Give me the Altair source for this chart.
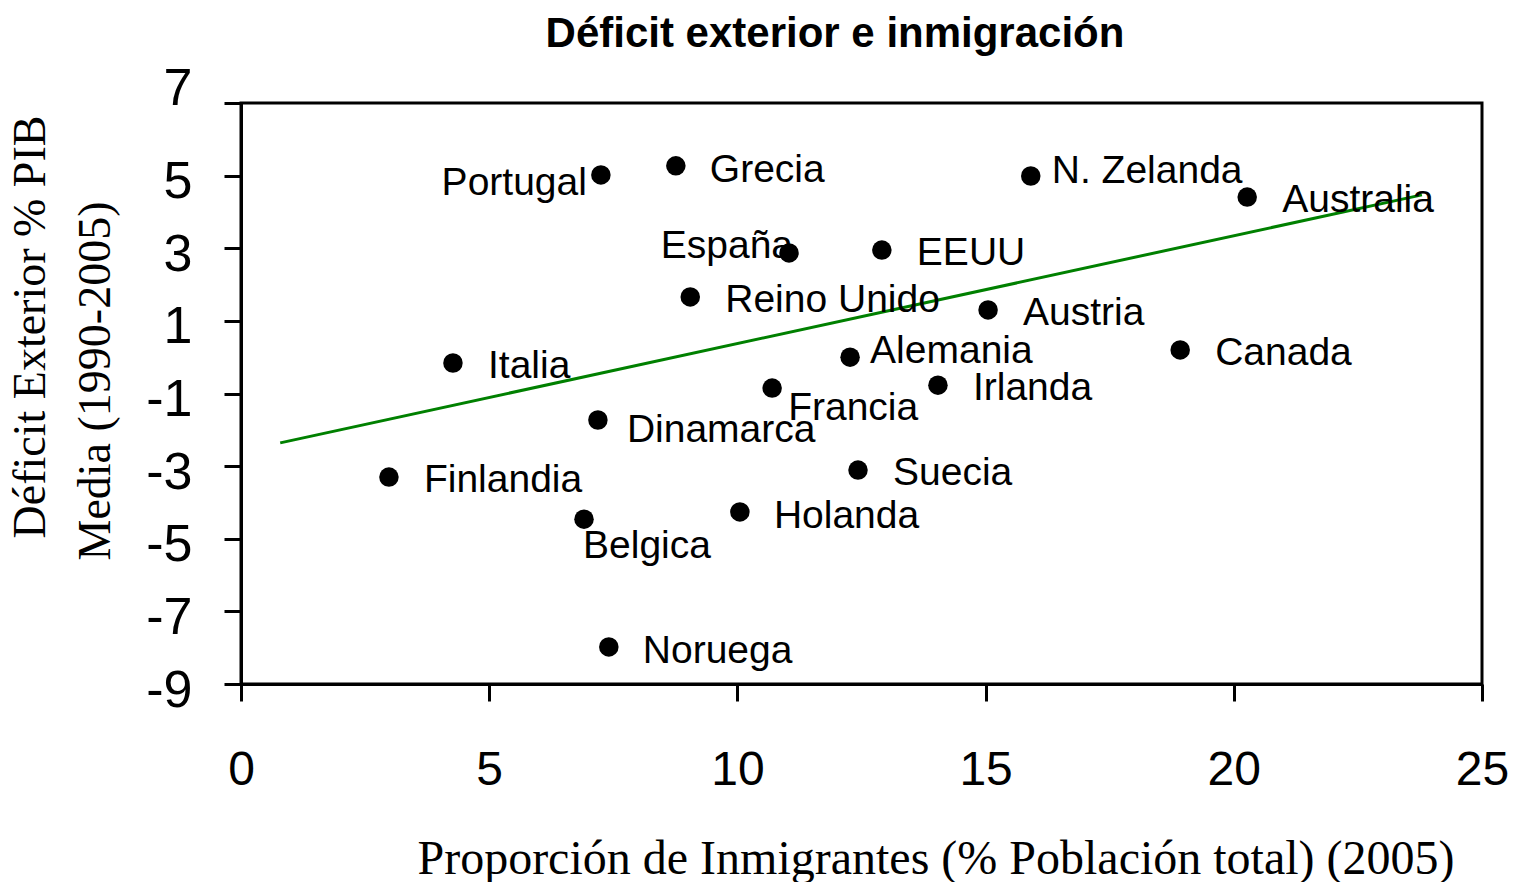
import altair as alt
import pandas as pd

# ---- data ----
paises = ["Portugal", "Grecia", "N. Zelanda", "Australia", "España", "EEUU",
          "Reino Unido", "Austria", "Italia", "Alemania", "Canada", "Francia",
          "Irlanda", "Dinamarca", "Finlandia", "Suecia", "Holanda", "Belgica",
          "Noruega"]
inmigrantes = [7.25, 8.76, 15.91, 20.27, 11.04, 12.91, 9.05, 15.05, 4.27, 12.27,
               18.92, 10.70, 14.04, 7.19, 2.98, 12.43, 10.05, 6.91, 7.41]
deficit = [5.02, 5.27, 4.99, 4.41, 2.87, 2.95, 1.66, 1.30, -0.16, 0.00,
           0.20, -0.85, -0.77, -1.73, -3.30, -3.11, -4.26, -4.46, -7.98]

tendencia_x = [0.79, 23.79]
tendencia_y = [-2.36, 4.47]

x_ticks = [0, 5, 10, 15, 20, 25]
y_ticks = [-9, -7, -5, -3, -1, 1, 3, 5, 7]

titulo = "Déficit exterior e inmigración"
titulo_x = "Proporción de Inmigrantes (% Población total) (2005)"
titulo_y1 = "Déficit Exterior % PIB"
titulo_y2 = "Media (1990-2005)"

# label placement (align, dx, dy) -> countries
colocacion = {
    ("right", -14, 20): ["Portugal"],
    ("right", 4, 5): ["España"],
    ("left", 34, 16): ["Grecia", "Holanda", "Noruega"],
    ("left", 21, 7): ["N. Zelanda"],
    ("left", 35, 15): ["Australia", "EEUU", "Reino Unido", "Austria", "Italia",
                       "Canada", "Irlanda", "Finlandia", "Suecia"],
    ("left", 20, 6): ["Alemania"],
    ("left", 16, 32): ["Francia"],
    ("left", 29, 22): ["Dinamarca"],
    ("left", -1, 39): ["Belgica"],
}

SANS = "Liberation Sans"
SERIF = "Liberation Serif"

df = pd.DataFrame({"pais": paises, "inm": inmigrantes, "def": deficit})
trend = pd.DataFrame({"inm": tendencia_x, "def": tendencia_y})

xscale = alt.Scale(domain=[0, 25], nice=False, zero=False)
yscale = alt.Scale(domain=[-9, 7], nice=False, zero=False)

x_axis = alt.Axis(values=x_ticks, title=None, grid=False, domainColor="black",
                  domainWidth=3, tickColor="black", tickWidth=3, tickSize=17,
                  labelFont=SANS, labelFontSize=48, labelPadding=45,
                  labelBaseline="top", labelColor="black", labelFlush=False,
                  labelExpr="toString(datum.value)")
y_axis = alt.Axis(values=y_ticks, title=None, grid=False, domainColor="black",
                  domainWidth=3, tickColor="black", tickWidth=3, tickSize=17,
                  labelFont=SANS, labelFontSize=52, labelPadding=32,
                  labelAlign="right", labelBaseline="middle", labelColor="black",
                  labelFlush=False, labelExpr="toString(datum.value)",
                  labelOffset={"condition": {"test": "datum.value == 7", "value": -15},
                               "value": 6})

X = alt.X("inm:Q", scale=xscale, axis=x_axis)
Y = alt.Y("def:Q", scale=yscale, axis=y_axis)

points = alt.Chart(df).mark_circle(size=380, color="black", opacity=1).encode(
    x=X, y=Y)

line = alt.Chart(trend).mark_line(color="#008000", strokeWidth=3).encode(
    x=X, y=Y)

label_layers = []
for (align, dx, dy), names in colocacion.items():
    label_layers.append(
        alt.Chart(df).transform_filter(
            alt.FieldOneOfPredicate(field="pais", oneOf=names)
        ).mark_text(align=align, baseline="alphabetic", dx=dx, dy=dy,
                    font=SANS, fontSize=39, color="black").encode(
            x=X, y=Y, text="pais:N",
        )
    )

def texto(t, x, y, font, size, weight="normal", angle=0):
    kw = dict(align="center", baseline="alphabetic", font=font, fontSize=size,
              fontWeight=weight, color="black")
    if angle:
        kw["angle"] = angle
    return alt.Chart(pd.DataFrame({"t": [t]})).mark_text(**kw).encode(
        x=alt.value(x), y=alt.value(y), text="t:N")

title_mark = texto(titulo, 594, -56, SANS, 42, weight="bold")
xtitle_mark = texto(titulo_x, 695, 771, SERIF, 48)
ytitle1 = texto(titulo_y1, -196, 224, SERIF, 46, angle=270)
ytitle2 = texto(titulo_y2, -131, 278, SERIF, 46, angle=270)

chart = alt.layer(
    points, line, *label_layers, title_mark, xtitle_mark, ytitle1, ytitle2
).properties(
    width=1241, height=581,
    autosize=alt.AutoSizeParams(type="none"),
    padding={"left": 233, "top": 95, "right": 26, "bottom": 198},
).configure(background="white").configure_view(stroke="black", strokeWidth=3)

chart.save("out.html", embed_options={"renderer": "svg", "actions": False})
